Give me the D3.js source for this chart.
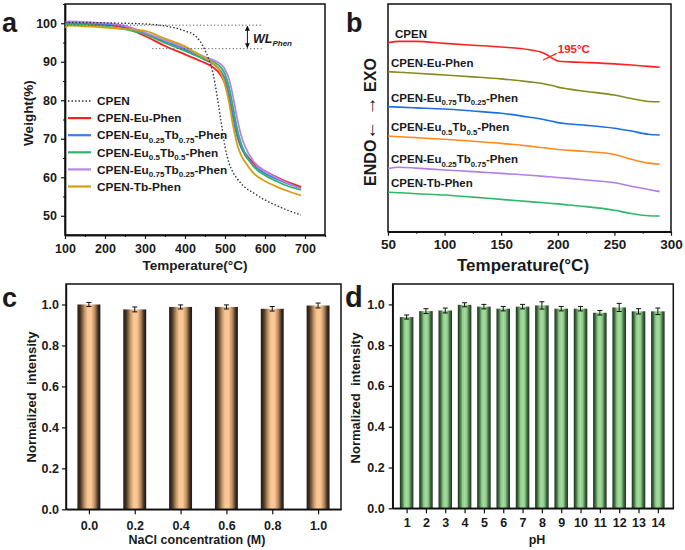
<!DOCTYPE html>
<html>
<head>
<meta charset="utf-8">
<script src="https://cdn.jsdelivr.net/npm/d3@7"></script>
<style>
  body { margin: 0; background: #fff; }
  svg text { font-family: Arial, "Liberation Sans", sans-serif; font-weight: bold; fill: #1a1a1a; }
</style>
</head>
<body>
<svg id="fig" width="685" height="550"></svg>
<script>
// ---- panel a : TGA ----
const tempA = [100, 110, 150, 200, 250, 300, 350, 400, 425, 450, 470, 490, 500, 510, 520, 530, 540, 550, 570, 600, 630, 660, 690];
const wCPEN = [100.2, 100.2, 100.2, 100.1, 100.0, 99.8, 99.3, 98.0, 96.8, 93.0, 87.0, 74.5, 68.0, 63.7, 61.3, 59.7, 58.4, 57.4, 56.0, 54.1, 52.6, 51.3, 50.2];
const wEu = [99.8, 99.9, 99.8, 99.6, 98.8, 96.7, 94.1, 91.9, 90.8, 89.7, 88.6, 86.4, 84.3, 80.8, 75.8, 71.0, 68.0, 66.3, 63.8, 61.6, 60.0, 58.6, 57.5];
const wEu25 = [100.0, 100.1, 100.0, 99.8, 99.2, 97.4, 95.2, 93.2, 91.9, 90.5, 89.5, 87.5, 85.5, 81.5, 76.0, 71.0, 67.8, 65.8, 63.2, 61.0, 59.5, 58.2, 57.1];
const wEu50 = [99.6, 99.8, 99.6, 99.2, 98.4, 97.1, 94.9, 92.8, 91.7, 90.7, 90.0, 88.5, 86.8, 83.5, 78.3, 72.8, 68.8, 66.3, 63.0, 60.5, 58.9, 57.6, 56.7];
const wEu75 = [100.2, 100.5, 100.3, 100.0, 99.3, 97.6, 95.6, 93.6, 92.4, 91.2, 90.5, 89.3, 88.0, 85.5, 81.0, 75.5, 71.0, 68.0, 64.3, 61.6, 59.8, 58.3, 57.0];
const wTb = [98.9, 99.4, 99.2, 98.9, 98.5, 98.0, 96.0, 94.0, 92.5, 91.0, 89.6, 87.0, 84.0, 79.5, 73.5, 68.7, 65.8, 64.0, 61.2, 59.0, 57.5, 56.3, 55.3];
const namesA = ["CPEN", "CPEN-Eu-Phen", "CPEN-Eu_{0.25}Tb_{0.75}-Phen", "CPEN-Eu_{0.5}Tb_{0.5}-Phen", "CPEN-Eu_{0.75}Tb_{0.25}-Phen", "CPEN-Tb-Phen"];
const colorsA = ["#333", "#ff1f1f", "#3a7ee6", "#2fb36a", "#b884ec", "#d4a012"];
const xTicksA = [100, 200, 300, 400, 500, 600, 700];
const yTicksA = [50, 60, 70, 80, 90, 100];

// ---- panel b : DSC ----
const tempB = [50, 60, 75, 100, 125, 150, 175, 185, 190, 195, 200, 210, 225, 250, 265, 280, 290];
const hCPEN = [83.0, 83.6, 83.6, 82.7, 81.9, 81.1, 79.9, 78.9, 77.8, 76.2, 75.0, 74.6, 74.3, 73.7, 73.2, 72.6, 72.2];
const hEu = [70.3, 70.0, 69.6, 68.8, 68.0, 67.1, 65.8, 65.2, 64.7, 64.2, 63.5, 62.6, 61.6, 60.0, 58.5, 57.2, 57.1];
const hEu75 = [54.9, 54.7, 54.4, 53.9, 53.0, 52.0, 50.3, 49.5, 49.0, 48.5, 47.9, 47.3, 46.7, 45.4, 44.2, 42.8, 42.5];
const hEu50 = [42.0, 41.7, 41.3, 40.6, 39.7, 38.8, 37.6, 37.0, 36.7, 36.4, 36.1, 35.7, 35.2, 33.9, 31.8, 30.1, 29.6];
const hEu25 = [27.8, 28.3, 27.9, 27.1, 26.4, 25.6, 24.8, 24.4, 24.2, 24.0, 23.8, 23.4, 22.7, 21.5, 20.0, 18.5, 17.6];
const hTb = [17.3, 17.1, 16.7, 16.1, 15.2, 14.2, 13.2, 12.8, 12.6, 12.4, 12.2, 11.7, 11.0, 9.4, 8.0, 7.0, 6.9];
const namesB = ["CPEN", "CPEN-Eu-Phen", "CPEN-Eu_{0.75}Tb_{0.25}-Phen", "CPEN-Eu_{0.5}Tb_{0.5}-Phen", "CPEN-Eu_{0.25}Tb_{0.75}-Phen", "CPEN-Tb-Phen"];
const colorsB = ["#ff2020", "#878a1e", "#1e6fe0", "#ff8a1e", "#b07ee6", "#2db86a"];
const xTicksB = [50, 100, 150, 200, 250, 300];

// ---- panel c : NaCl ----
const nacl = [0.0, 0.2, 0.4, 0.6, 0.8, 1.0];
const naclVal = [1.0, 0.976, 0.988, 0.988, 0.979, 0.995];
const naclErr = [0.010, 0.012, 0.010, 0.010, 0.011, 0.012];

// ---- panel d : pH ----
const ph = [1, 2, 3, 4, 5, 6, 7, 8, 9, 10, 11, 12, 13, 14];
const phVal = [0.938, 0.967, 0.970, 0.998, 0.989, 0.979, 0.989, 0.995, 0.979, 0.979, 0.959, 0.985, 0.966, 0.966];
const phErr = [0.010, 0.012, 0.012, 0.010, 0.011, 0.011, 0.011, 0.018, 0.011, 0.011, 0.011, 0.020, 0.013, 0.016];
const yTicksCD = [0.0, 0.2, 0.4, 0.6, 0.8, 1.0];

const svg = d3.select("#fig");

// Write a label with _{..} parts as subscripts.
function richText(sel, str, fs) {
  const parts = str.split(/(_\{[^}]*\})/).filter(s => s);
  let sub = false;
  parts.forEach(p => {
    if (p.startsWith("_{")) {
      sel.append("tspan").attr("font-size", fs * 0.68).attr("dy", fs * 0.3).text(p.slice(2, -1));
      sub = true;
    } else {
      sel.append("tspan").attr("font-size", fs).attr("dy", sub ? -fs * 0.3 : 0).text(p);
      sub = false;
    }
  });
}

// Draw an axis and style it.
function drawAxis(g, axis, fs) {
  g.call(axis);
  g.selectAll("path").attr("stroke", "#111").attr("stroke-width", 1.4);
  g.selectAll("line").attr("stroke", "#111").attr("stroke-width", 1.2);
  g.selectAll("text").attr("font-size", fs).attr("fill", "#1a1a1a");
}

function frame(x0, y0, x1, y1) {
  svg.append("rect").attr("x", x0).attr("y", y0).attr("width", x1 - x0).attr("height", y1 - y0)
    .attr("fill", "none").attr("stroke", "#111").attr("stroke-width", 1.5);
}

function title(txt, x, y, fs, rot) {
  const t = svg.append("text").attr("font-size", fs).attr("text-anchor", "middle")
    .style("white-space", "pre").text(txt);
  if (rot) t.attr("transform", `translate(${x},${y}) rotate(-90)`);
  else t.attr("x", x).attr("y", y);
  return t;
}

// ================= panel a =================
const xA = d3.scaleLinear().domain([100, 750]).range([65, 325]);
const yA = d3.scaleLinear().domain([45, 105]).range([235, 4]);

drawAxis(svg.append("g").attr("transform", "translate(0,235)"),
  d3.axisBottom(xA).tickValues(d3.range(150, 751, 100)).tickSize(2).tickFormat("").tickSizeOuter(0), 12);
drawAxis(svg.append("g").attr("transform", "translate(0,235)"),
  d3.axisBottom(xA).tickValues(xTicksA).tickSize(4).tickPadding(5).tickSizeOuter(0), 12.5);
drawAxis(svg.append("g").attr("transform", "translate(65,0)"),
  d3.axisLeft(yA).tickValues(d3.range(55, 106, 10)).tickSize(2).tickFormat("").tickSizeOuter(0), 12);
drawAxis(svg.append("g").attr("transform", "translate(65,0)"),
  d3.axisLeft(yA).tickValues(yTicksA).tickSize(4).tickPadding(4).tickSizeOuter(0), 12.5);
frame(65, 4, 325, 235);

const seriesA = [wCPEN, wEu, wEu25, wEu50, wEu75, wTb];
const lineA = d3.line().x((d, i) => xA(tempA[i])).y(d => yA(d)).curve(d3.curveMonotoneX);
[1, 2, 3, 4, 5, 0].forEach(k => {
  svg.append("path").datum(seriesA[k]).attr("d", lineA).attr("fill", "none")
    .attr("stroke", colorsA[k]).attr("stroke-width", k === 0 ? 1.4 : 1.8)
    .attr("stroke-dasharray", k === 0 ? "1.5,2" : null);
});

// weight-loss annotation
const dotted = { stroke: "#555", "stroke-width": 1, "stroke-dasharray": "1.2,2.3" };
function dline(x1, y1, x2, y2) {
  const l = svg.append("line").attr("x1", x1).attr("y1", y1).attr("x2", x2).attr("y2", y2);
  Object.entries(dotted).forEach(([k, v]) => l.attr(k, v));
}
dline(xA(105), yA(99.5), xA(592), yA(99.5));
dline(xA(318), yA(93.4), xA(592), yA(93.4));
svg.append("defs").html(
  '<marker id="arr" viewBox="0 0 10 10" refX="9" refY="5" markerWidth="5" markerHeight="5" orient="auto-start-reverse"><path d="M0,0L10,5L0,10z" fill="#111"/></marker>');
svg.append("line").attr("x1", xA(556)).attr("x2", xA(556)).attr("y1", yA(99.5) + 1).attr("y2", yA(93.4) - 1)
  .attr("stroke", "#111").attr("stroke-width", 1)
  .attr("marker-start", "url(#arr)").attr("marker-end", "url(#arr)");
const wl = svg.append("text").attr("x", 253).attr("y", 43).attr("font-style", "italic");
wl.append("tspan").attr("font-size", 12.5).text("WL");
wl.append("tspan").attr("font-size", 8).attr("dy", 3).text("Phen");

// legend a
namesA.forEach((n, i) => {
  const y = 101 + i * 17.1;
  svg.append("line").attr("x1", 68).attr("x2", 91).attr("y1", y).attr("y2", y)
    .attr("stroke", colorsA[i]).attr("stroke-width", i === 0 ? 1.4 : 2.2)
    .attr("stroke-dasharray", i === 0 ? "1.5,2" : null);
  richText(svg.append("text").attr("x", 97).attr("y", y + 4.2), n, 11.8);
});

title("Temperature(\u00b0C)", 195, 270, 13.5);
title("Weight(%)", 33, 113, 13.5, true);
svg.append("text").attr("x", 2).attr("y", 32).attr("font-size", 27).text("a");

// ================= panel b =================
const xB = d3.scaleLinear().domain([50, 300]).range([388, 671]);
const yB = d3.scaleLinear().domain([0, 100]).range([231.7, 4]);

drawAxis(svg.append("g").attr("transform", "translate(0,231.7)"),
  d3.axisBottom(xB).tickValues(d3.range(75, 300, 50)).tickSize(2).tickFormat("").tickSizeOuter(0), 12);
drawAxis(svg.append("g").attr("transform", "translate(0,231.7)"),
  d3.axisBottom(xB).tickValues(xTicksB).tickSize(4).tickPadding(4).tickSizeOuter(0), 13.5);
frame(388, 4, 671, 231.7);

const seriesB = [hCPEN, hEu, hEu75, hEu50, hEu25, hTb];
const lineB = d3.line().x((d, i) => xB(tempB[i])).y(d => yB(d)).curve(d3.curveMonotoneX);
seriesB.forEach((s, k) => {
  svg.append("path").datum(s).attr("d", lineB).attr("fill", "none")
    .attr("stroke", colorsB[k]).attr("stroke-width", 1.6);
  richText(svg.append("text").attr("x", k === 0 ? 395 : 391).attr("y", yB(s[0]) - 5), namesB[k], 11.5);
});
// glass transition mark
svg.append("line").attr("x1", xB(187)).attr("y1", yB(75.4)).attr("x2", xB(199)).attr("y2", yB(78.3))
  .attr("stroke", colorsB[0]).attr("stroke-width", 1.2);
svg.append("text").attr("x", xB(200)).attr("y", yB(78.3)).attr("font-size", 11.5)
  .style("fill", "#ff2020").text("195\u00b0C");

title("Temperature(\u00b0C)", 523, 271, 17);
const endo = title("", 376, 122, 16, true);
endo.append("tspan").text("ENDO");
endo.append("tspan").attr("font-size", 19).text("\u2190 \u2192");
endo.append("tspan").text(" EXO");
svg.append("text").attr("x", 346).attr("y", 32).attr("font-size", 27).text("b");

// ================= gradients =================
const defs = svg.append("defs");
function grad(id, stops) {
  const g = defs.append("linearGradient").attr("id", id).attr("x1", 0).attr("x2", 1).attr("y1", 0).attr("y2", 0);
  stops.forEach(([o, c]) => g.append("stop").attr("offset", o).attr("stop-color", c));
}
grad("peach", [[0, "#1c1712"], [0.14, "#4e3b28"], [0.32, "#c99a6c"], [0.45, "#fbc794"], [0.6, "#fbc794"], [0.76, "#b88a60"], [0.9, "#3f3022"], [1, "#1c1712"]]);
grad("mint", [[0, "#1f2f1f"], [0.16, "#3f6a40"], [0.34, "#8fcc8a"], [0.5, "#a6dca1"], [0.66, "#8fcc8a"], [0.84, "#3f6a40"], [1, "#1f2f1f"]]);

function errBars(xs, ys, es, xS, yS, cap) {
  xs.forEach((x, i) => {
    const cx = xS(x);
    const t = yS(ys[i] + es[i]), b = yS(ys[i] - es[i]);
    svg.append("line").attr("x1", cx).attr("x2", cx).attr("y1", t).attr("y2", b).attr("stroke", "#111").attr("stroke-width", 1);
    [t, b].forEach(y => svg.append("line").attr("x1", cx - cap).attr("x2", cx + cap).attr("y1", y).attr("y2", y)
      .attr("stroke", "#111").attr("stroke-width", 1));
  });
}

// ================= panel c =================
const xC = d3.scaleLinear().domain([-0.1, 1.1]).range([66, 341]);
const yC = d3.scaleLinear().domain([0, 1.1]).range([509.3, 284]);
const bwC = xC(0.1) - xC(0);
svg.append("g").selectAll("rect").data(nacl).join("rect")
  .attr("x", d => xC(d) - bwC / 2).attr("width", bwC)
  .attr("y", (d, i) => yC(naclVal[i])).attr("height", (d, i) => yC(0) - yC(naclVal[i]))
  .attr("fill", "url(#peach)");
errBars(nacl, naclVal, naclErr, xC, yC, 2.5);
drawAxis(svg.append("g").attr("transform", "translate(0,509.3)"),
  d3.axisBottom(xC).tickValues(nacl).tickFormat(d3.format(".1f")).tickSize(5).tickPadding(7).tickSizeOuter(0), 12.5);
drawAxis(svg.append("g").attr("transform", "translate(66,0)"),
  d3.axisLeft(yC).tickValues(yTicksCD).tickFormat(d3.format(".1f")).tickSize(4).tickPadding(3).tickSizeOuter(0), 12.5);
frame(66, 284, 341, 509.3);
title("NaCl concentration (M)", 197, 544, 12.5);
title("Normalized  intensity", 36, 397, 13, true);
svg.append("text").attr("x", 2).attr("y", 307).attr("font-size", 27).text("c");

// ================= panel d =================
const xD = d3.scaleLinear().domain([0.28, 14.8]).range([392.7, 673.3]);
const yD = d3.scaleLinear().domain([0, 1.1]).range([508.3, 284]);
const bwD = xD(0.7) - xD(0);
svg.append("g").selectAll("rect").data(ph).join("rect")
  .attr("x", d => xD(d) - bwD / 2).attr("width", bwD)
  .attr("y", (d, i) => yD(phVal[i])).attr("height", (d, i) => yD(0) - yD(phVal[i]))
  .attr("fill", "url(#mint)");
errBars(ph, phVal, phErr, xD, yD, 2.5);
drawAxis(svg.append("g").attr("transform", "translate(0,508.3)"),
  d3.axisBottom(xD).tickValues(ph).tickSize(5).tickPadding(5).tickSizeOuter(0), 12.5);
drawAxis(svg.append("g").attr("transform", "translate(392.7,0)"),
  d3.axisLeft(yD).tickValues(yTicksCD).tickFormat(d3.format(".1f")).tickSize(4).tickPadding(4).tickSizeOuter(0), 12.5);
frame(392.7, 284, 673.3, 508.3);
title("pH", 537, 544, 12.5);
title("Normalized  intensity", 360, 398, 13, true);
svg.append("text").attr("x", 345).attr("y", 307).attr("font-size", 29).text("d");
</script>
</body>
</html>
